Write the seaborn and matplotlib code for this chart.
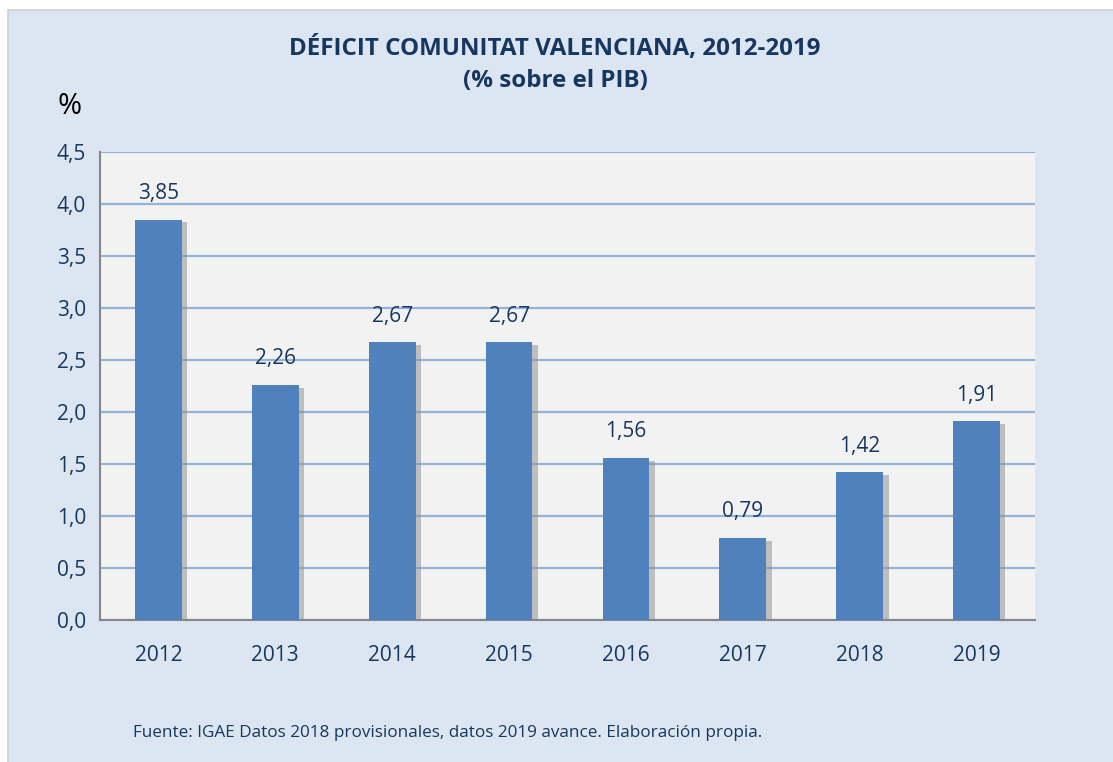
import numpy as np
import matplotlib
matplotlib.use("Agg")
import matplotlib.pyplot as plt
import matplotlib.patheffects as pe
from matplotlib.patches import Rectangle
import seaborn as sns

# data
years = ["2012", "2013", "2014", "2015", "2016", "2017", "2018", "2019"]
deficit = [3.85, 2.26, 2.67, 2.67, 1.56, 0.79, 1.42, 1.91]
yticks = [0.0, 0.5, 1.0, 1.5, 2.0, 2.5, 3.0, 3.5, 4.0, 4.5]

navy = "#17375E"
sns.set_style("white")
plt.rcParams["font.family"] = ["Open Sans", "DejaVu Sans"]

fig = plt.figure(figsize=(11.13, 7.62), dpi=100)
fig.patch.set_facecolor("white")
# light blue panel behind everything
fig.patches.append(Rectangle((8 / 1113, -0.01), 1.0, 1.01 - 10 / 762, transform=fig.transFigure,
                             facecolor="#DCE6F2", edgecolor="#D0D0D0", lw=1.2, zorder=-10))

ax = fig.add_axes([100 / 1113, 1 - 620 / 762, 935 / 1113, 468 / 762])
ax.set_facecolor("#F2F2F2")

sns.barplot(x=years, y=deficit, color="#4F81BD", saturation=1, width=0.4, linewidth=0, ax=ax, zorder=3)
for p in ax.patches:
    p.set_path_effects([pe.SimplePatchShadow(offset=(4, -2), shadow_rgbFace="#8C8C8C", alpha=0.5),
                        pe.Normal()])

for i, v in enumerate(deficit):
    ax.text(i, v + 0.15, f"{v:.2f}".replace(".", ","), ha="center", va="bottom",
            fontsize=15, color=navy, zorder=5)

ax.set_ylim(0, 4.5)
ax.set_xlim(-0.5, 7.5)
ax.set_yticks(yticks)
ax.set_yticklabels([f"{t:.1f}".replace(".", ",") for t in yticks], fontsize=15, color=navy)
ax.yaxis.grid(True, color="#95B3D7", lw=1.6, zorder=0)
ax.set_axisbelow(True)

# year labels at centres, tick marks at category boundaries
ax.set_xticks(np.arange(-0.5, 8, 1))
ax.set_xticklabels([])
ax.set_xticks(np.arange(8), minor=True)
ax.set_xticklabels(years, minor=True, fontsize=15, color=navy)
ax.tick_params(axis="x", which="minor", length=0, pad=18)
ax.tick_params(axis="x", which="major", length=6, width=1.2, color="#868686", direction="out")
ax.tick_params(axis="y", length=6, width=1.2, color="#868686", direction="out", pad=4)

for s in ["top", "right"]:
    ax.spines[s].set_visible(False)
for s in ["left", "bottom"]:
    ax.spines[s].set_color("#868686")
    ax.spines[s].set_linewidth(1.5)
ax.set_xlabel("")
ax.set_ylabel("")

fig.text(555 / 1113, 1 - 48 / 762, "DÉFICIT COMUNITAT VALENCIANA, 2012-2019", ha="center", va="center",
         fontsize=17.4, fontweight="bold", color=navy)
fig.text(555 / 1113, 1 - 81 / 762, "(% sobre el PIB)", ha="center", va="center",
         fontsize=17.4, fontweight="bold", color=navy)
fig.text(70 / 1113, 1 - 107 / 762, "%", ha="center", va="center", fontsize=21, color="black")
fig.text(133 / 1113, 1 - 733 / 762,
         "Fuente: IGAE Datos 2018 provisionales, datos 2019 avance. Elaboración propia.",
         ha="left", va="center", fontsize=12.3, color=navy)

fig.savefig("out.png", dpi=100)
